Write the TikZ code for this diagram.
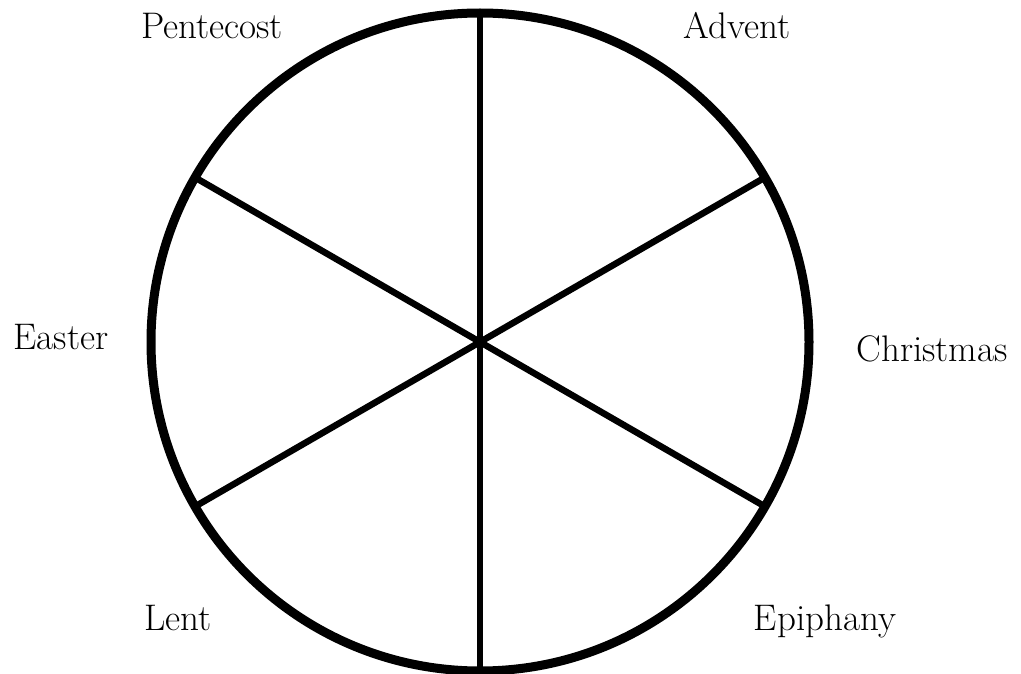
\documentclass[tikz,border=0pt]{standalone}
\begin{document}
\begin{tikzpicture}[x=1pt,y=-1pt,
  ring/.style={circle,draw,line width=9pt,inner sep=0pt,outer sep=0pt,minimum size=658pt},
  spoke/.style={line width=6.5pt},
  lbl/.style={font=\fontsize{37}{44}\selectfont,anchor=base,inner sep=0pt}]
\useasboundingbox (0,0) rectangle (1021,674);
\coordinate (c) at (480,342);
\node[ring] (R) at (c) {};
\draw[spoke] (R.90) -- (R.270);
\draw[spoke] (R.30) -- (R.210);
\draw[spoke] (R.150) -- (R.330);
\node[lbl] (pentecost) at (212,39) {Pentecost};
\node[lbl] (advent) at (737,39) {Advent};
\node[lbl] (christmas) at (932,361) {Christmas};
\node[lbl] (easter) at (61,349) {Easter};
\node[lbl] (lent) at (178,630) {Lent};
\node[lbl] (epiphany) at (825,630) {Epiphany};
\end{tikzpicture}
\end{document}
